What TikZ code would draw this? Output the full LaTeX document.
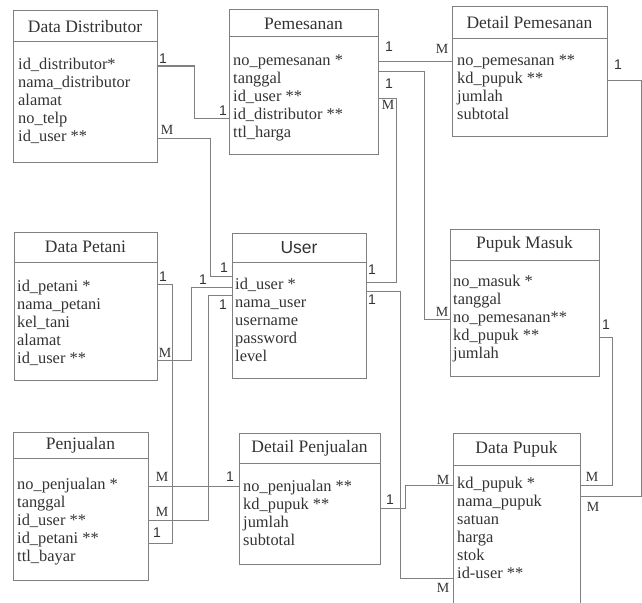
\documentclass[tikz,border=0pt]{standalone}
\usepackage{fontspec}
\setmainfont{Liberation Serif}
\newfontfamily\arialfont{Liberation Sans}
\usetikzlibrary{positioning,calc}

\begin{document}
\begin{tikzpicture}[x=1pt,y=-1pt,
		tbl/.style={draw=black!50, line width=1pt, outer sep=0pt, inner sep=0pt, text=black!80},
		ttl/.style={tbl, font=\fontsize{17.5}{20}\selectfont},
		attr/.style={anchor=west, inner sep=0pt, text height=10pt, text depth=3pt, text=black!80, font=\fontsize{16.4}{18}\selectfont},
		rel/.style={draw=black!50, line width=1pt},
		one/.style={inner sep=0pt, text=black!80, font=\arialfont\fontsize{14}{16}\selectfont},
		many/.style={inner sep=0pt, text=black!80, font=\fontsize{14}{16}\selectfont}]
					
					\clip (0,0) rectangle (642,602);
					
					% tabel
					\node[ttl, minimum width=144pt, minimum height=31pt] (dd) at (85,26.5) {Data Distributor};
					\node[tbl, minimum width=144pt, minimum height=120pt, below=0pt of dd] (ddb) {};
					\foreach \fld [count=\i] in {id\_distributor*, nama\_distributor, alamat, no\_telp, id\_user **}
						\node[attr] (dd\i) at ($(ddb.north west)+(5,{24+(\i-1)*18})$) {\fld};
					
					\node[ttl, minimum width=149pt, minimum height=27pt] (pem) at (303.5,23.5) {Pemesanan};
					\node[tbl, minimum width=149pt, minimum height=117pt, below=0pt of pem] (pemb) {};
					\foreach \fld [count=\i] in {no\_pemesanan *, tanggal, id\_user **, id\_distributor **, ttl\_harga}
						\node[attr] (pem\i) at ($(pemb.north west)+(4,{25+(\i-1)*18})$) {\fld};
					
					\node[ttl, minimum width=155pt, minimum height=32pt] (dpm) at (529.5,23) {Detail Pemesanan};
					\node[tbl, minimum width=155pt, minimum height=97pt, below=0pt of dpm] (dpmb) {};
					\foreach \fld [count=\i] in {no\_pemesanan **, kd\_pupuk **, jumlah, subtotal}
						\node[attr] (dpm\i) at ($(dpmb.north west)+(5,{23+(\i-1)*18})$) {\fld};
					
					\node[ttl, minimum width=143pt, minimum height=30pt] (pt) at (85.5,247) {Data Petani};
					\node[tbl, minimum width=143pt, minimum height=118pt, below=0pt of pt] (ptb) {};
					\foreach \fld [count=\i] in {id\_petani *, nama\_petani, kel\_tani, alamat, id\_user **}
						\node[attr] (pt\i) at ($(ptb.north west)+(3,{26+(\i-1)*18})$) {\fld};
					
					\node[ttl, font=\arialfont\fontsize{17.5}{20}\selectfont, minimum width=134pt, minimum height=29pt] (user) at (299,247.5) {User};
					\node[tbl, minimum width=134pt, minimum height=116pt, below=0pt of user] (userb) {};
					\foreach \fld [count=\i] in {id\_user *, nama\_user, username, password, level}
						\node[attr] (user\i) at ($(userb.north west)+(3,{24+(\i-1)*18})$) {\fld};
					
					\node[ttl, minimum width=149pt, minimum height=31pt] (pm) at (524.5,244.5) {Pupuk Masuk};
					\node[tbl, minimum width=149pt, minimum height=116pt, below=0pt of pm] (pmb) {};
					\foreach \fld [count=\i] in {no\_masuk *, tanggal, no\_pemesanan**, kd\_pupuk **, jumlah}
						\node[attr] (pm\i) at ($(pmb.north west)+(3,{23+(\i-1)*18})$) {\fld};
					
					\node[ttl, minimum width=135pt, minimum height=26pt] (pj) at (80.5,445) {Penjualan};
					\node[tbl, minimum width=135pt, minimum height=122pt, below=0pt of pj] (pjb) {};
					\foreach \fld [count=\i] in {no\_penjualan *, tanggal, id\_user **, id\_petani **, ttl\_bayar}
						\node[attr] (pj\i) at ($(pjb.north west)+(4,{28+(\i-1)*18})$) {\fld};
					
					\node[ttl, minimum width=141pt, minimum height=30pt] (dpj) at (309.5,448) {Detail Penjualan};
					\node[tbl, minimum width=141pt, minimum height=101pt, below=0pt of dpj] (dpjb) {};
					\foreach \fld [count=\i] in {no\_penjualan **, kd\_pupuk **, jumlah, subtotal}
						\node[attr] (dpj\i) at ($(dpjb.north west)+(4,{25+(\i-1)*18})$) {\fld};
					
					\node[ttl, minimum width=127pt, minimum height=32pt] (dpk) at (516.5,449) {Data Pupuk};
					\node[tbl, minimum width=127pt, minimum height=160pt, below=0pt of dpk] (dpkb) {};
					\foreach \fld [count=\i] in {kd\_pupuk *, nama\_pupuk, satuan, harga, stok, id-user **}
						\node[attr] (dpk\i) at ($(dpkb.north west)+(4,{20+(\i-1)*18})$) {\fld};
					
					% relasi
					\draw[rel] (ddb.east |- dd1) -| ($(pemb.west |- pem4)+(-35,2)$) -- ($(pemb.west |- pem4)+(0,2)$);
					\draw[rel] (ddb.east |- dd5) -| ($(userb.west |- user1)+(-22,-10)$) -- ($(userb.west |- user1)+(0,-10)$);
					\draw[rel] ($(ptb.east |- pt1)+(0,-4)$) -| ($(pjb.east |- pj4)+(24,3)$) -- ($(pjb.east |- pj4)+(0,3)$);
					\draw[rel] (ptb.east |- pt5) -| ($(userb.west |- user1)+(-41,1)$) -- ($(userb.west |- user1)+(0,1)$);
					\draw[rel] ($(userb.west |- user1)+(0,9)$) -| ($(pjb.east |- pj3)+(60,-2)$) -- ($(pjb.east |- pj3)+(0,-2)$);
					\draw[rel] (pjb.east |- pj1) -- (dpjb.west |- pj1);
					\draw[rel] ($(userb.east |- user1)+(0,-4)$) -| ($(pemb.east |- pem3)+(18,0)$) -- (pemb.east |- pem3);
					\draw[rel] ($(userb.east |- user1)+(0,5)$) -| ($(dpkb.west |- dpk6)+(-53,3)$) -- ($(dpkb.west |- dpk6)+(0,3)$);
					\draw[rel] (pemb.east |- pem1) -- (dpmb.west |- pem1);
					\draw[rel] ($(pemb.east |- pem1)+(0,9)$) -| ($(pmb.west |- pm3)+(-26,0)$) -- (pmb.west |- pm3);
					\draw[rel] (dpmb.east |- dpm2) -| ($(dpkb.east |- dpk1)+(61,11)$) -- ($(dpkb.east |- dpk1)+(0,11)$);
					\draw[rel] (pmb.east |- pm4) -| ($(dpkb.east |- dpk1)+(32,0)$) -- (dpkb.east |- dpk1);
					\draw[rel] ($(dpjb.east |- dpj2)+(0,2)$) -| ($(dpkb.west |- dpk1)+(-48,0)$) -- (dpkb.west |- dpk1);
					
					% kardinalitas
					\node[one] (c1) at (163,59) {1};
					\node[one] (c2) at (223,111) {1};
					\node[many] (c3) at (167,130) {M};
					\node[one] (c4) at (224,268) {1};
					\node[one] (c5) at (163,277) {1};
					\node[many] (c6) at (165,353) {M};
					\node[one] (c7) at (203,280) {1};
					\node[one] (c8) at (223,305) {1};
					\node[many] (c9) at (162,477) {M};
					\node[many] (c10) at (162,512) {M};
					\node[one] (c11) at (157,533) {1};
					\node[one] (c12) at (230,477) {1};
					\node[one] (c13) at (372,270) {1};
					\node[one] (c14) at (372,300) {1};
					\node[one] (c15) at (389,47) {1};
					\node[many] (c16) at (442,49) {M};
					\node[one] (c17) at (389,84) {1};
					\node[many] (c18) at (388,105) {M};
					\node[many] (c19) at (442,312) {M};
					\node[one] (c20) at (618,65) {1};
					\node[one] (c21) at (606,325) {1};
					\node[many] (c22) at (592,477) {M};
					\node[many] (c23) at (593,507) {M};
					\node[many] (c24) at (443,480) {M};
					\node[one] (c25) at (390,500) {1};
					\node[many] (c26) at (443,588) {M};
					
			\end{tikzpicture}
\end{document}
